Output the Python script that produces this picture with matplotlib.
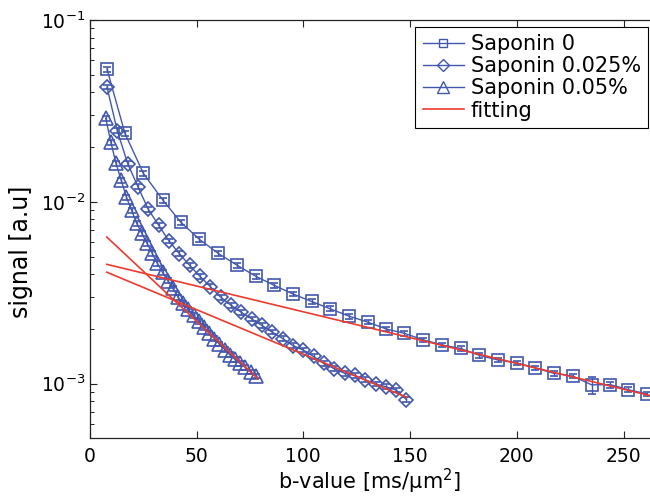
import matplotlib
matplotlib.use('Agg')
import matplotlib.pyplot as plt
from matplotlib.lines import Line2D
from matplotlib.ticker import LogLocator, NullFormatter

# Colours
C_BLUE = '#4257AE'
C_RED = '#EE3A2E'
C_DARK = '#222222'

# Saponin 0 (squares)
b_sap0 = [8.1, 16.5, 25.1, 34.3, 42.7, 51.4, 60.2, 69.1, 77.8, 86.4,
          95.2, 103.9, 112.5, 121.4, 130.1, 138.7, 147.3, 156.2, 165.1, 173.7,
          182.4, 191.0, 199.9, 208.5, 217.2, 226.1, 235.0, 243.6, 252.1, 260.7]
s_sap0 = [5.37e-2, 2.38e-2, 1.435e-2, 1.02e-2, 7.71e-3, 6.21e-3, 5.20e-3, 4.47e-3, 3.89e-3, 3.47e-3,
          3.11e-3, 2.83e-3, 2.58e-3, 2.35e-3, 2.18e-3, 2.00e-3, 1.89e-3, 1.74e-3, 1.63e-3, 1.56e-3,
          1.43e-3, 1.35e-3, 1.30e-3, 1.22e-3, 1.14e-3, 1.10e-3, 0.984e-3, 0.987e-3, 0.926e-3, 0.878e-3]
rel_err_sap0 = [0.03, 0.03, 0.03, 0.03, 0.03, 0.03, 0.03, 0.03, 0.03, 0.03,
                0.03, 0.03, 0.03, 0.03, 0.03, 0.03, 0.03, 0.03, 0.03, 0.03,
                0.03, 0.03, 0.03, 0.03, 0.03, 0.03, 0.11, 0.04, 0.03, 0.03]

# Saponin 0.025% (diamonds)
b_sap025 = [8.1, 12.9, 17.8, 22.6, 27.4, 32.3, 37.1, 41.9, 46.8, 51.6,
            56.4, 61.3, 66.1, 70.9, 75.8, 80.6, 85.4, 90.3, 95.1, 99.9,
            104.8, 109.6, 114.4, 119.3, 124.1, 128.9, 133.8, 138.6, 143.4, 148.3]
s_sap025 = [4.28e-2, 2.46e-2, 1.62e-2, 1.21e-2, 9.1e-3, 7.43e-3, 6.09e-3, 5.19e-3, 4.47e-3, 3.89e-3,
            3.42e-3, 2.99e-3, 2.70e-3, 2.47e-3, 2.27e-3, 2.09e-3, 1.92e-3, 1.77e-3, 1.62e-3, 1.53e-3,
            1.41e-3, 1.29e-3, 1.21e-3, 1.14e-3, 1.11e-3, 1.05e-3, 0.995e-3, 0.961e-3, 0.922e-3, 0.817e-3]
rel_err_sap025 = [0.03, 0.03, 0.03, 0.03, 0.03, 0.03, 0.03, 0.03, 0.03, 0.03,
                  0.03, 0.03, 0.03, 0.03, 0.03, 0.03, 0.03, 0.03, 0.03, 0.03,
                  0.03, 0.03, 0.03, 0.03, 0.03, 0.03, 0.03, 0.03, 0.03, 0.03]

# Saponin 0.05% (triangles)
b_sap05 = [7.5, 9.9, 12.3, 14.8, 17.2, 19.6, 22.0, 24.4, 26.9, 29.3,
           31.7, 34.1, 36.5, 39.0, 41.4, 43.8, 46.2, 48.6, 51.1, 53.5,
           55.9, 58.3, 60.7, 63.2, 65.6, 68.0, 70.4, 72.8, 75.3, 77.7]
s_sap05 = [2.88e-2, 2.13e-2, 1.63e-2, 1.31e-2, 1.06e-2, 8.98e-3, 7.62e-3, 6.71e-3, 5.90e-3, 5.20e-3,
           4.58e-3, 4.09e-3, 3.69e-3, 3.34e-3, 2.98e-3, 2.76e-3, 2.56e-3, 2.37e-3, 2.20e-3, 2.04e-3,
           1.90e-3, 1.77e-3, 1.65e-3, 1.54e-3, 1.44e-3, 1.36e-3, 1.29e-3, 1.23e-3, 1.16e-3, 1.10e-3]
rel_err_sap05 = [0.03, 0.03, 0.03, 0.03, 0.03, 0.03, 0.03, 0.03, 0.03, 0.03,
                 0.03, 0.03, 0.03, 0.03, 0.03, 0.03, 0.03, 0.03, 0.03, 0.03,
                 0.03, 0.03, 0.03, 0.03, 0.03, 0.03, 0.03, 0.03, 0.03, 0.03]

# Mono-exponential fits (end points, straight on log scale)
fit_b = [[8.0, 78.9], [8.0, 148.3], [8.0, 262.3]]
fit_s = [[6.40e-3, 1.06e-3], [4.10e-3, 0.841e-3], [4.53e-3, 0.859e-3]]

x_ticks = [0, 50, 100, 150, 200, 250]
legend_labels = ['Saponin 0', 'Saponin 0.025%', 'Saponin 0.05%', 'fitting']

series = [
    (b_sap0, s_sap0, rel_err_sap0, 's', 8.0),
    (b_sap025, s_sap025, rel_err_sap025, 'D', 7.2),
    (b_sap05, s_sap05, rel_err_sap05, '^', 9.5),
]

fig = plt.figure(figsize=(6.5, 4.99), dpi=100)
fig.patch.set_facecolor('white')
ax = fig.add_axes([0.138, 0.1216, 0.862, 0.8383])

for b, s, rel, mk, ms in series:
    err = [v * r for v, r in zip(s, rel)]
    ax.errorbar(b, s, yerr=err, fmt='-', marker=mk, ms=ms, mfc='none',
                mec=C_BLUE, mew=1.2, color=C_BLUE, lw=1.0,
                ecolor=C_BLUE, elinewidth=1.0, capsize=3, capthick=1.0, zorder=2)

for fb, fs in zip(fit_b, fit_s):
    ax.plot(fb, fs, color=C_RED, lw=1.2, zorder=3)

ax.set_yscale('log')
ax.set_xlim(0, 262.3)
ax.set_ylim(5e-4, 1e-1)
ax.set_xticks(x_ticks)
ax.yaxis.set_major_locator(LogLocator(base=10, numticks=10))
ax.yaxis.set_minor_locator(LogLocator(base=10, subs=range(2, 10), numticks=20))
ax.yaxis.set_minor_formatter(NullFormatter())

ax.spines['right'].set_visible(False)
for sp in ['left', 'top', 'bottom']:
    ax.spines[sp].set_linewidth(0.9)
    ax.spines[sp].set_color(C_DARK)
ax.tick_params(which='both', direction='in', top=True, right=False,
               colors=C_DARK, labelcolor='black')
ax.tick_params(which='major', length=5, width=0.8, labelsize=13.5)
ax.tick_params(which='minor', length=3, width=0.7)
ax.tick_params(axis='x', pad=6)
ax.tick_params(axis='y', pad=3)

ax.set_xlabel('b-value [ms/μm$^2$]', fontsize=15, labelpad=1)
ax.set_ylabel('signal [a.u]', fontsize=17)
ax.yaxis.set_label_coords(-0.101, 0.445)

handles = [
    Line2D([], [], color=C_BLUE, lw=1.0, marker='s', ms=6, mfc='none', mec=C_BLUE),
    Line2D([], [], color=C_BLUE, lw=1.0, marker='D', ms=6, mfc='none', mec=C_BLUE),
    Line2D([], [], color=C_BLUE, lw=1.0, marker='^', ms=8, mfc='none', mec=C_BLUE),
    Line2D([], [], color=C_RED, lw=1.2),
]
leg = ax.legend(handles, legend_labels, loc='upper right',
                bbox_to_anchor=(0.9964, 0.9833), borderaxespad=0,
                fontsize=15, handlelength=2.0, handletextpad=0.3,
                labelspacing=0.1, borderpad=0.35, fancybox=False,
                framealpha=1, edgecolor='black')
leg.get_frame().set_linewidth(0.8)

plt.savefig('out.png', dpi=100, facecolor='white')
plt.close()
